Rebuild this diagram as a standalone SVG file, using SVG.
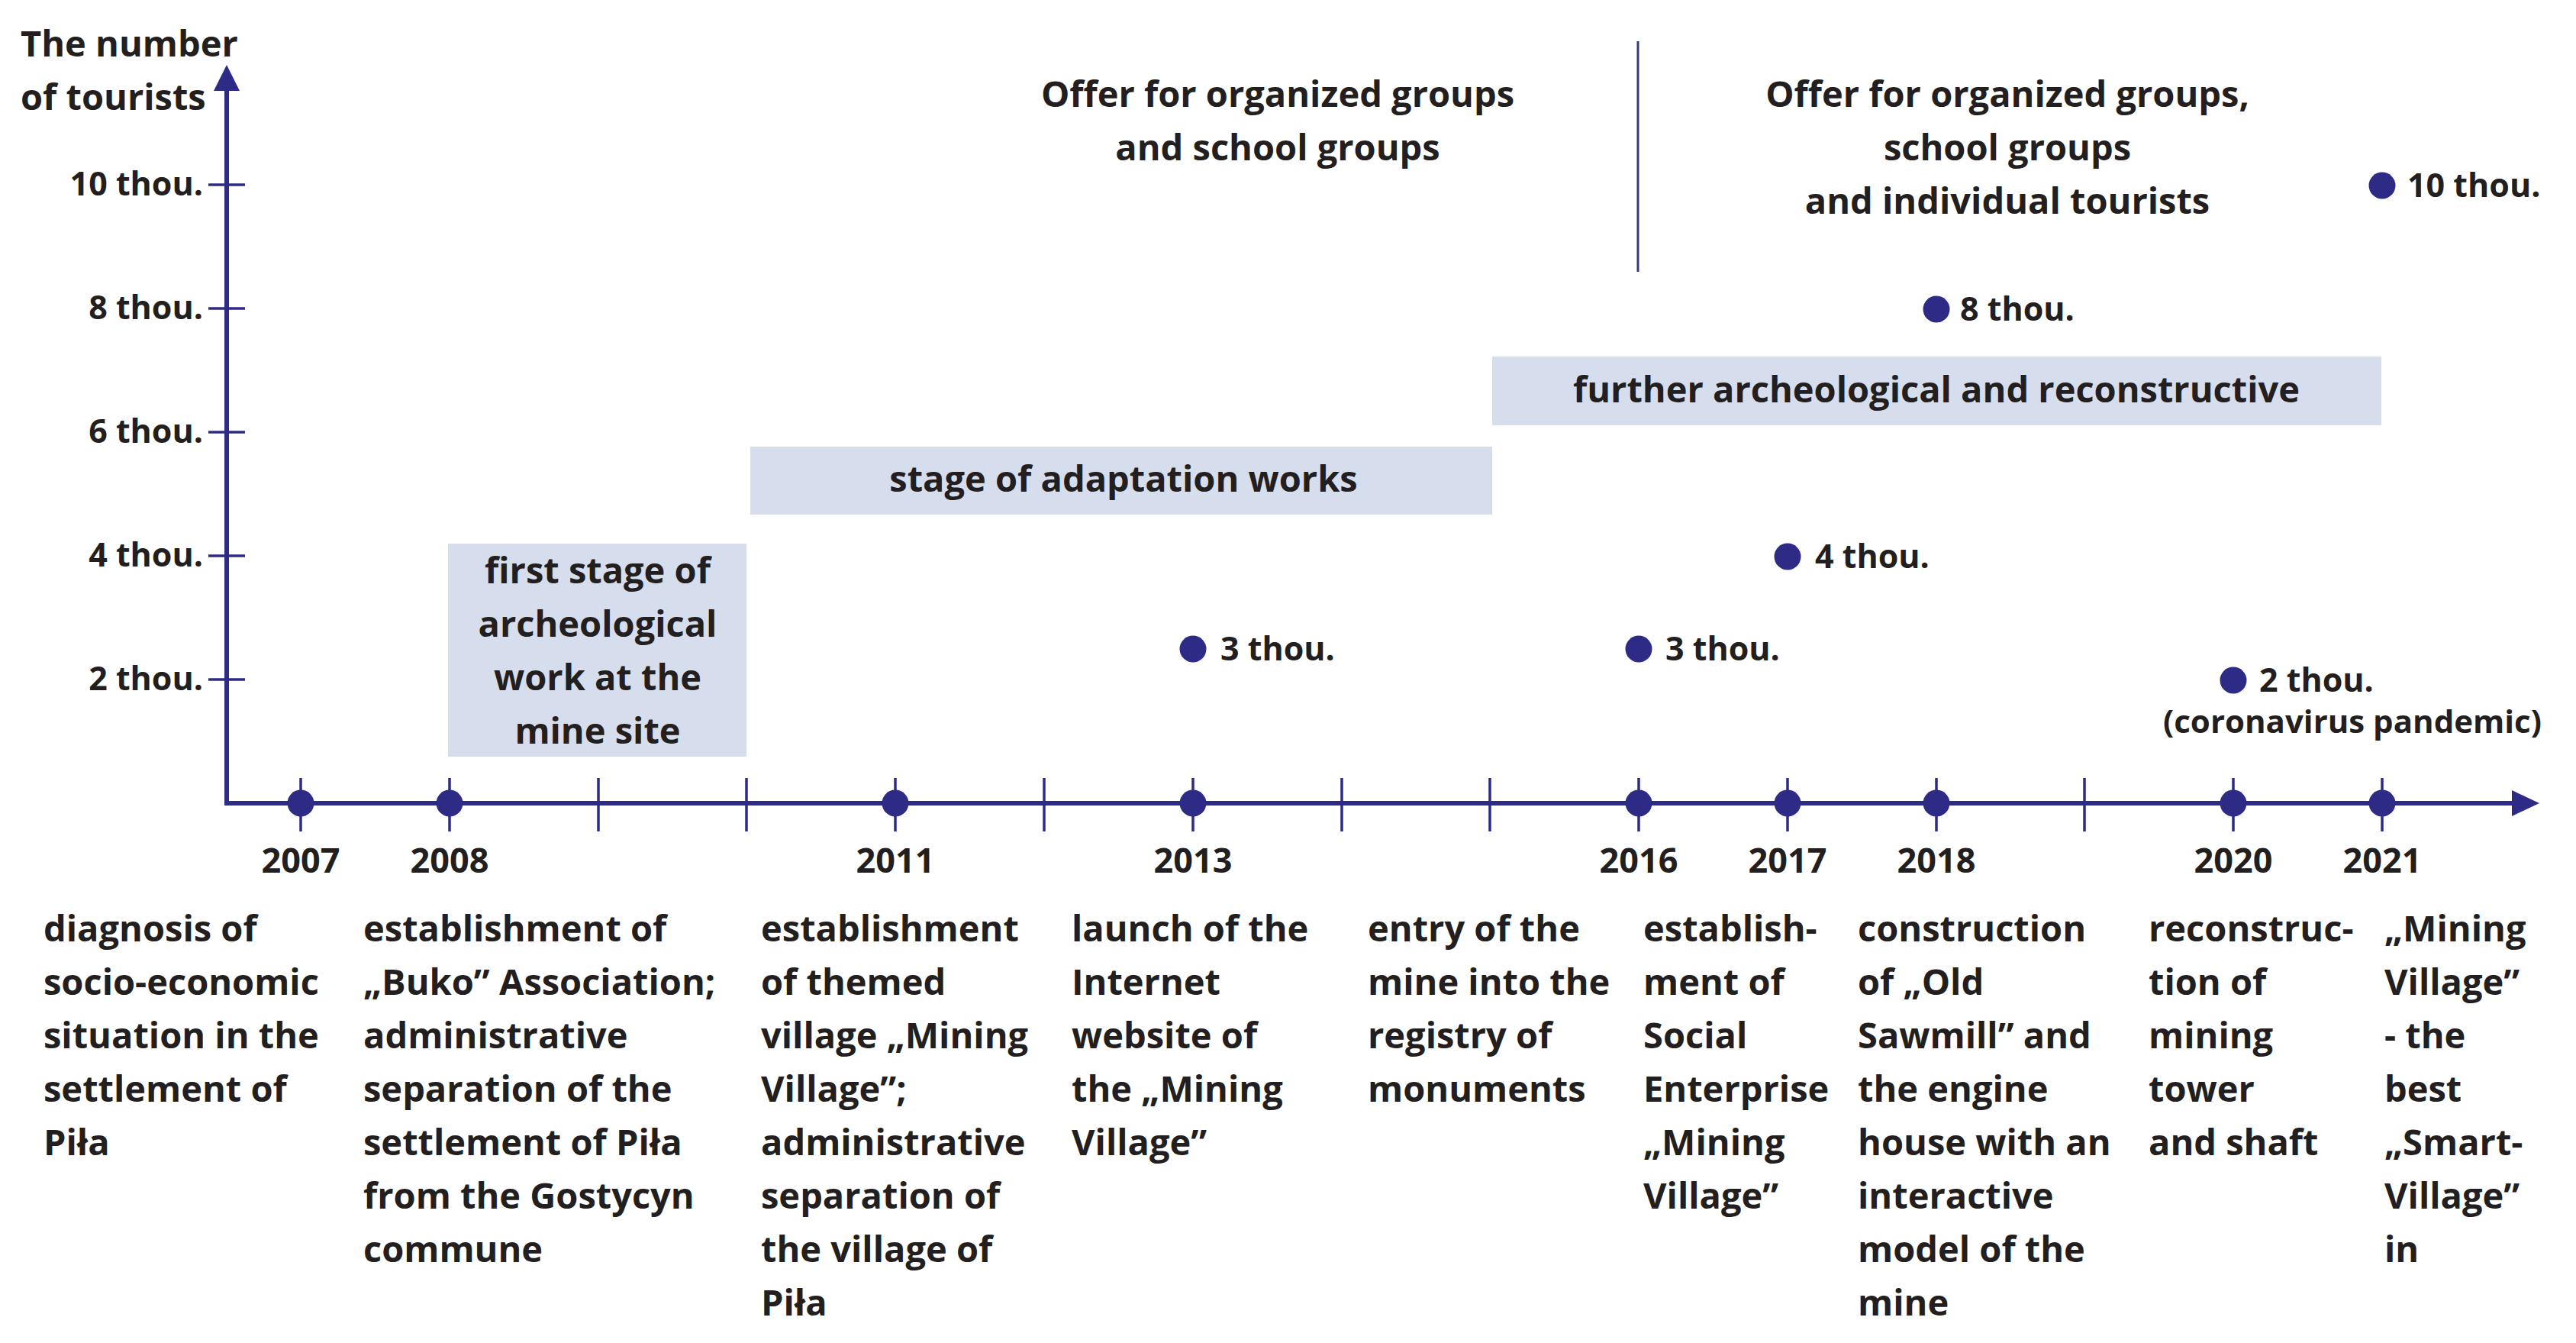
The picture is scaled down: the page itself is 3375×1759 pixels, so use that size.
<svg xmlns="http://www.w3.org/2000/svg" width="3375" height="1759" viewBox="0 0 3375 1759">
<style>
text{font-family:"Open Sans","Noto Sans","Liberation Sans",sans-serif;font-weight:bold;fill:#231f20;font-size:47px}
.c{text-anchor:middle}
.e{text-anchor:end}
.n{font-size:43px}
.y{font-size:45px;text-anchor:middle}
.box{fill:#d6ddec}
.dot{fill:#2e2b86}
.ax{stroke:#2e2b86;stroke-width:6;fill:none}
.tk{stroke:#2e2b86;stroke-width:3.5;fill:none}
.ah{fill:#2e2b86}
</style>
<rect width="3375" height="1759" fill="#ffffff"/>

<g id="axes">
  <line class="ax" x1="297" y1="116" x2="297" y2="1052"/>
  <line class="ax" x1="294" y1="1052" x2="3294" y2="1052"/>
  <polygon class="ah" points="297,85 280,119 314,119"/>
  <polygon class="ah" points="3327,1052 3291,1035 3291,1069"/>
  <g id="y-ticks">
    <line class="tk" x1="273" y1="242" x2="321" y2="242"/>
    <line class="tk" x1="273" y1="404" x2="321" y2="404"/>
    <line class="tk" x1="273" y1="566" x2="321" y2="566"/>
    <line class="tk" x1="273" y1="728" x2="321" y2="728"/>
    <line class="tk" x1="273" y1="890" x2="321" y2="890"/>
  </g>
  <g id="x-ticks">
    <line class="tk" x1="394" y1="1019" x2="394" y2="1089"/>
    <line class="tk" x1="589" y1="1019" x2="589" y2="1089"/>
    <line class="tk" x1="784" y1="1019" x2="784" y2="1089"/>
    <line class="tk" x1="978" y1="1019" x2="978" y2="1089"/>
    <line class="tk" x1="1173" y1="1019" x2="1173" y2="1089"/>
    <line class="tk" x1="1368" y1="1019" x2="1368" y2="1089"/>
    <line class="tk" x1="1563" y1="1019" x2="1563" y2="1089"/>
    <line class="tk" x1="1758" y1="1019" x2="1758" y2="1089"/>
    <line class="tk" x1="1952" y1="1019" x2="1952" y2="1089"/>
    <line class="tk" x1="2147" y1="1019" x2="2147" y2="1089"/>
    <line class="tk" x1="2342" y1="1019" x2="2342" y2="1089"/>
    <line class="tk" x1="2537" y1="1019" x2="2537" y2="1089"/>
    <line class="tk" x1="2731" y1="1019" x2="2731" y2="1089"/>
    <line class="tk" x1="2926" y1="1019" x2="2926" y2="1089"/>
    <line class="tk" x1="3121" y1="1019" x2="3121" y2="1089"/>
  </g>
  <line id="divider" x1="2146" y1="54" x2="2146" y2="356" stroke="#3b3a78" stroke-width="3"/>
</g>

<g id="axis-title">
  <text x="27" y="74">The number</text>
  <text x="27" y="144">of tourists</text>
</g>
<g id="y-labels">
  <text class="e n" x="266" y="256">10 thou.</text>
  <text class="e n" x="266" y="418">8 thou.</text>
  <text class="e n" x="266" y="580">6 thou.</text>
  <text class="e n" x="266" y="742">4 thou.</text>
  <text class="e n" x="266" y="904">2 thou.</text>
</g>

<g id="offer-1">
  <text class="c" x="1674" y="140">Offer for organized groups</text>
  <text class="c" x="1674" y="210">and school groups</text>
</g>
<g id="offer-2">
  <text class="c" x="2630" y="140">Offer for organized groups,</text>
  <text class="c" x="2630" y="210">school groups</text>
  <text class="c" x="2630" y="280">and individual tourists</text>
</g>

<g id="stage-first">
  <rect class="box" x="587" y="712" width="391" height="279"/>
  <text class="c" x="783" y="764">first stage of</text>
  <text class="c" x="783" y="834">archeological</text>
  <text class="c" x="783" y="904">work at the</text>
  <text class="c" x="783" y="974">mine site</text>
</g>
<g id="stage-adaptation">
  <rect class="box" x="983" y="585" width="972" height="89"/>
  <text class="c" x="1472" y="644">stage of adaptation works</text>
</g>
<g id="stage-further">
  <rect class="box" x="1955" y="467" width="1165" height="90"/>
  <text class="c" x="2537" y="527">further archeological and reconstructive</text>
</g>

<g id="points">
  <g id="p2013"><circle class="dot" cx="1563" cy="850" r="17.5"/><text class="n" x="1599" y="865">3 thou.</text></g>
  <g id="p2016"><circle class="dot" cx="2147" cy="850" r="17.5"/><text class="n" x="2182" y="865">3 thou.</text></g>
  <g id="p2017"><circle class="dot" cx="2342" cy="729" r="17.5"/><text class="n" x="2378" y="744">4 thou.</text></g>
  <g id="p2018"><circle class="dot" cx="2537" cy="405" r="17.5"/><text class="n" x="2568" y="420">8 thou.</text></g>
  <g id="p2020"><circle class="dot" cx="2926" cy="891" r="17.5"/><text class="n" x="2960" y="906">2 thou.</text><text class="c" x="3082" y="960" style="font-size:42px">(coronavirus pandemic)</text></g>
  <g id="p2021"><circle class="dot" cx="3121" cy="243" r="17.5"/><text class="n" x="3154" y="258">10 thou.</text></g>
</g>

<g id="year-dots">
  <circle class="dot" cx="394" cy="1052" r="17.5"/>
  <circle class="dot" cx="589" cy="1052" r="17.5"/>
  <circle class="dot" cx="1173" cy="1052" r="17.5"/>
  <circle class="dot" cx="1563" cy="1052" r="17.5"/>
  <circle class="dot" cx="2147" cy="1052" r="17.5"/>
  <circle class="dot" cx="2342" cy="1052" r="17.5"/>
  <circle class="dot" cx="2537" cy="1052" r="17.5"/>
  <circle class="dot" cx="2926" cy="1052" r="17.5"/>
  <circle class="dot" cx="3121" cy="1052" r="17.5"/>
</g>
<g id="years">
  <text class="y" x="394" y="1143">2007</text>
  <text class="y" x="589" y="1143">2008</text>
  <text class="y" x="1173" y="1143">2011</text>
  <text class="y" x="1563" y="1143">2013</text>
  <text class="y" x="2147" y="1143">2016</text>
  <text class="y" x="2342" y="1143">2017</text>
  <text class="y" x="2537" y="1143">2018</text>
  <text class="y" x="2926" y="1143">2020</text>
  <text class="y" x="3121" y="1143">2021</text>
</g>

<g id="event-2007">
  <text x="57" y="1233">diagnosis of</text>
  <text x="57" y="1303">socio-economic</text>
  <text x="57" y="1373">situation in the</text>
  <text x="57" y="1443">settlement of</text>
  <text x="57" y="1513">Piła</text>
</g>
<g id="event-2008">
  <text x="476" y="1233">establishment of</text>
  <text x="476" y="1303">„Buko” Association;</text>
  <text x="476" y="1373">administrative</text>
  <text x="476" y="1443">separation of the</text>
  <text x="476" y="1513">settlement of Piła</text>
  <text x="476" y="1583">from the Gostycyn</text>
  <text x="476" y="1653">commune</text>
</g>
<g id="event-2011">
  <text x="997" y="1233">establishment</text>
  <text x="997" y="1303">of themed</text>
  <text x="997" y="1373">village „Mining</text>
  <text x="997" y="1443">Village”;</text>
  <text x="997" y="1513">administrative</text>
  <text x="997" y="1583">separation of</text>
  <text x="997" y="1653">the village of</text>
  <text x="997" y="1723">Piła</text>
</g>
<g id="event-2013">
  <text x="1404" y="1233">launch of the</text>
  <text x="1404" y="1303">Internet</text>
  <text x="1404" y="1373">website of</text>
  <text x="1404" y="1443">the „Mining</text>
  <text x="1404" y="1513">Village”</text>
</g>
<g id="event-entry">
  <text x="1792" y="1233">entry of the</text>
  <text x="1792" y="1303">mine into the</text>
  <text x="1792" y="1373">registry of</text>
  <text x="1792" y="1443">monuments</text>
</g>
<g id="event-2016">
  <text x="2153" y="1233">establish-</text>
  <text x="2153" y="1303">ment of</text>
  <text x="2153" y="1373">Social</text>
  <text x="2153" y="1443">Enterprise</text>
  <text x="2153" y="1513">„Mining</text>
  <text x="2153" y="1583">Village”</text>
</g>
<g id="event-2018">
  <text x="2434" y="1233">construction</text>
  <text x="2434" y="1303">of „Old</text>
  <text x="2434" y="1373">Sawmill” and</text>
  <text x="2434" y="1443">the engine</text>
  <text x="2434" y="1513">house with an</text>
  <text x="2434" y="1583">interactive</text>
  <text x="2434" y="1653">model of the</text>
  <text x="2434" y="1723">mine</text>
</g>
<g id="event-2020">
  <text x="2815" y="1233">reconstruc-</text>
  <text x="2815" y="1303">tion of</text>
  <text x="2815" y="1373">mining</text>
  <text x="2815" y="1443">tower</text>
  <text x="2815" y="1513">and shaft</text>
</g>
<g id="event-2021">
  <text x="3124" y="1233">„Mining</text>
  <text x="3124" y="1303">Village”</text>
  <text x="3124" y="1373">- the</text>
  <text x="3124" y="1443">best</text>
  <text x="3124" y="1513">„Smart-</text>
  <text x="3124" y="1583">Village”</text>
  <text x="3124" y="1653">in</text>
</g>
</svg>
